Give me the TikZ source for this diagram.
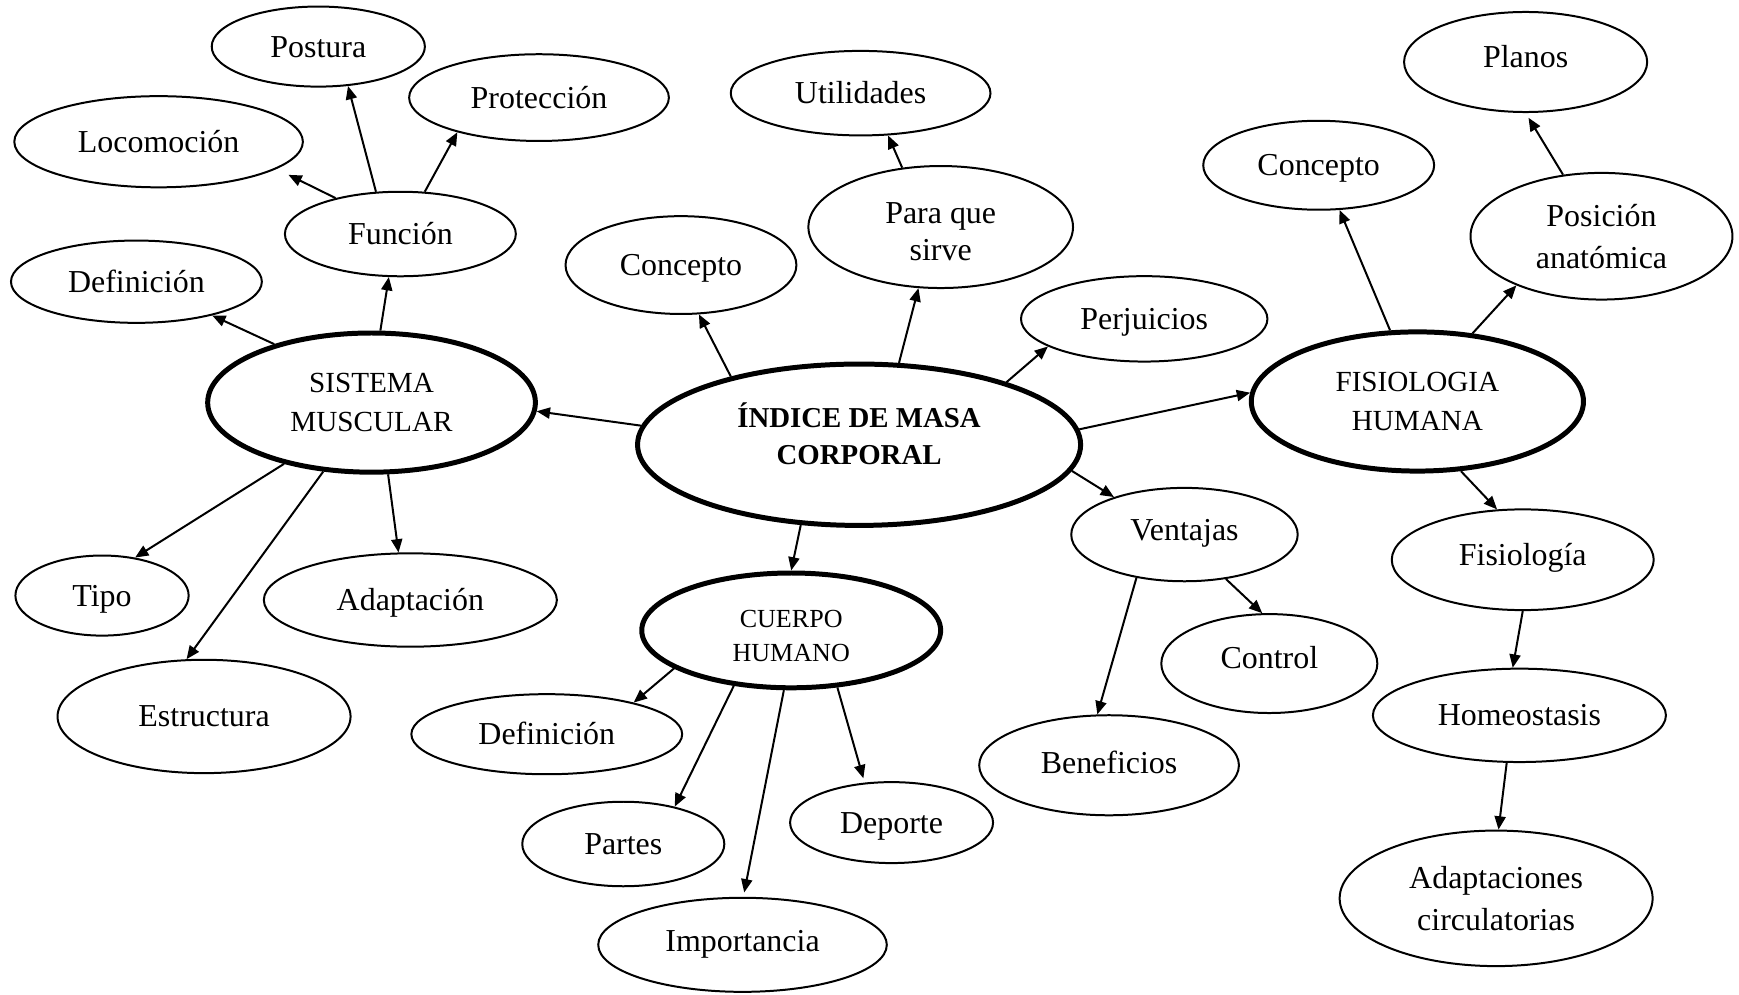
\documentclass[tikz,border=0pt]{standalone}
\usepackage{fontspec}
\setmainfont{Liberation Serif}
\usetikzlibrary{shapes.geometric,arrows.meta}
\begin{document}
\begin{tikzpicture}[x=1pt,y=-1pt,
  ell/.style 2 args={ellipse, draw, line width=1.8pt, inner sep=0pt, align=center,
    minimum width={2*#1pt-1.8pt}, minimum height={2*#2pt-1.8pt},
    font=\fontsize{28.8}{34}\selectfont, text height=19pt, text depth=0pt},
  big/.style 2 args={ellipse, draw, line width=4.5pt, inner sep=0pt, align=center,
    minimum width={2*#1pt-4.5pt}, minimum height={2*#2pt-4.5pt}},
  ml/.style={text height={}, text depth={}, font=\fontsize{28.8}{#1}\selectfont},
  lbl/.style={align=center, font=\fontsize{28.8}{#1}\selectfont},
  up/.style={text depth=#1},
  arr/.style={-{Triangle[length=12pt,width=10pt]}, line width=1.8pt}
]
\useasboundingbox (0,0) rectangle (1568,897);

% central
\node[big={202}{75}, label={[align=center, font=\fontsize{26}{34}\selectfont\bfseries, yshift=10pt]center:ÍNDICE DE MASA\\CORPORAL}] (imc) at (774.6,401) {};
\node[big={150}{65}, font=\fontsize{26.3}{35}\selectfont] (sm) at (335,363) {SISTEMA\\MUSCULAR};
\node[big={152}{65}, font=\fontsize{26.3}{35}\selectfont] (fh) at (1278,362) {FISIOLOGIA\\HUMANA};
\node[big={137}{54}, label={[align=center, font=\fontsize{23.5}{30.5}\selectfont, yshift=-5.1pt]center:CUERPO\\HUMANO}] (ch) at (713.4,568.4) {};

% left cluster
\node[ell={97}{37}] (post) at (287,42) {Postura};
\node[ell={118}{40}] (prot) at (486,88) {Protección};
\node[ell={131}{42}] (loco) at (143,127.8) {Locomoción};
\node[ell={105}{39}] (func) at (361,211) {Función};
\node[ell={114}{38}] (defl) at (123,254) {Definición};
\node[ell={79}{37}] (tipo) at (92,537) {Tipo};
\node[ell={133}{43}] (adap) at (370,541) {Adaptación};
\node[ell={133}{52}] (estr) at (184,646) {Estructura};

% top center
\node[ell={105}{45}] (conc) at (614,239) {Concepto};
\node[ell={118}{39}] (util) at (776,84) {Utilidades};
\node[ell={120.2}{55.9}, label={[lbl=33, yshift=-4.3pt]center:Para que\\sirve}] (para) at (848.2,204.7) {};
\node[ell={112}{39.4}] (perj) at (1031.7,287.5) {Perjuicios};

% right cluster
\node[ell={105}{41}] (concr) at (1189,149) {Concepto};
\node[ell={110.5}{46}, up=9pt] (plan) at (1375.6,55.9) {Planos};
\node[ell={119}{58}, ml=38] (posi) at (1444,213) {Posición\\anatómica};
\node[ell={119}{46.3}, up=8.4pt] (fisi) at (1373,504.7) {Fisiología};
\node[ell={133}{43}] (home) at (1370,645) {Homeostasis};
\node[ell={142}{62}, ml=38] (adci) at (1349,810) {Adaptaciones\\circulatorias};

% ventajas
\node[ell={103}{43}, up=8pt] (vent) at (1068,482) {Ventajas};
\node[ell={98.3}{45.5}, up=10.6pt] (ctrl) at (1144.5,598.3) {Control};
\node[ell={118}{46}, up=4pt] (bene) at (1000,690) {Beneficios};

% bottom
\node[ell={123}{37}] (defb) at (493,662) {Definición};
\node[ell={92}{39}] (part) at (562,761) {Partes};
\node[ell={92.4}{37.4}] (depo) at (803.9,741.7) {Deporte};
\node[ell={131}{43.3}, up=6.4pt] (impo) at (669.5,851.9) {Importancia};

% arrows
\draw[arr] (sm.83.2) -- (func.-105.4);
\draw[arr, shorten >=12pt] (func.151.9) -- (loco.-13.6);
\draw[arr] (func.120.5) -- (post.-53.6);
\draw[arr] (func.60.6) -- (prot.203.7);
\draw[arr] (sm.149.3) -- (defl.-24);
\draw[arr] (imc.175.7) -- (sm.-3.4);
\draw[arr] (sm.-145.5) -- (tipo.49.5);
\draw[arr] (sm.-125.7) -- (estr.107.2);
\draw[arr] (sm.-77) -- (adap.104);
\draw[arr] (imc.152) -- (conc.-70.6);
\draw[arr] (imc.64.7) -- (para.-110.3);
\draw[arr] (para.123.2) -- (util.-57.9);
\draw[arr] (imc.23.3) -- (perj.-164.7);
\draw[arr] (imc.4.6) -- (fh.177.4);
\draw[arr] (imc.-7.5) -- (vent.152.8);
\draw[arr] (imc.-126.8) -- (ch.90.4);
\draw[arr] (fh.111.8) -- (concr.-65.3);
\draw[arr] (fh.51.1) -- (posi.-150.6);
\draw[arr, shorten >=5pt] (posi.122.3) -- (plan.-90.4);
\draw[arr] (fh.-58.1) -- (fisi.117.7);
\draw[arr] (fisi.-90.4) -- (home.98.4);
\draw[arr] (home.-105.6) -- (adci.88.2);
\draw[arr] (vent.-47.8) -- (ctrl.98.3);
\draw[arr] (vent.-138.1) -- (bene.103.8);
\draw[arr] (ch.-162.4) -- (defb.20.4);
\draw[arr] (ch.-136.5) -- (part.36);
\draw[arr, shorten >=4pt] (ch.-97.3) -- (impo.89);
\draw[arr, shorten >=4pt] (ch.-51.7) -- (depo.124);
\end{tikzpicture}
\end{document}
